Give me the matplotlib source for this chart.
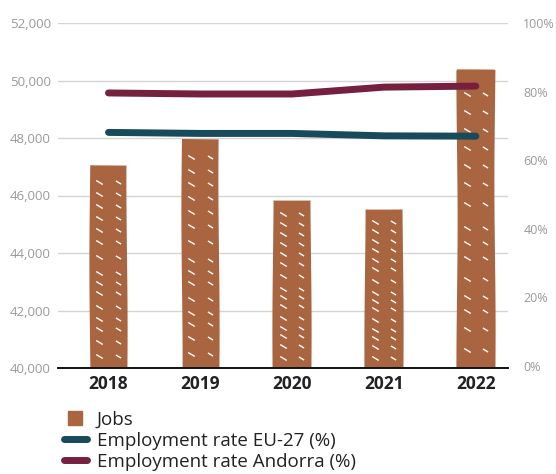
import numpy as np
import matplotlib.pyplot as plt
from matplotlib.path import Path
from matplotlib.lines import Line2D

plt.rcParams['font.family'] = ['Open Sans', 'DejaVu Sans']

# datos
years = ['2018', '2019', '2020', '2021', '2022']
jobs = [47050, 47980, 45840, 45530, 50350]
rate_eu = [68.1, 67.8, 67.8, 67.1, 67.0]
rate_andorra = [79.6, 79.3, 79.3, 81.3, 81.6]

bar_color = '#A8653F'
eu_color = '#174A5B'
and_color = '#76203F'
grid_color = '#D4D4D4'
label_color = '#9A9A9A'

fig = plt.figure(figsize=(5.56, 4.74), dpi=100)
ax = fig.add_axes([58 / 556, 106 / 474, 450 / 556, 345 / 474])
ax2 = ax.twinx()

x = np.arange(len(years))

# barras (borde apenas irregular)
bars = ax.bar(x, np.array(jobs) - 40000, bottom=40000, width=0.41,
              color=bar_color, zorder=2)
for b in bars:
    b.set_sketch_params(scale=0.6, length=300, randomness=1)

# pequenas marcas blancas dentro de las barras
tick_path = Path([(-1, 0.6), (1, -0.6)])
rows = [0.06, 0.13, 0.19, 0.24, 0.30, 0.37, 0.42, 0.47, 0.55, 0.62, 0.68, 0.74, 0.80, 0.86, 0.92]
for i, v in enumerate(jobs):
    h = v - 40000
    ys = [40000 + r * h for r in rows]
    ax.scatter([x[i] - 0.1] * len(ys), ys, marker=tick_path, s=22,
               color='white', linewidths=1.0, zorder=3)
    ax.scatter([x[i] + 0.1] * len(ys), ys[::-1], marker=tick_path, s=14,
               color='white', linewidths=1.0, zorder=3)

ax.set_ylim(40000, 52000)
ax.set_yticks(np.arange(40000, 52001, 2000))
ax.set_yticklabels([f'{v:,}' for v in range(40000, 52001, 2000)])
ax.set_xlim(-0.55, 4.35)
ax.set_xticks(x)
ax.set_xticklabels(years, fontsize=12.5, fontweight='bold', color='#222222')
ax.grid(axis='y', color=grid_color, linewidth=1.0, zorder=0)
ax.set_axisbelow(True)
ax.tick_params(axis='y', length=0, labelsize=9.5, labelcolor=label_color, pad=5)
ax.tick_params(axis='x', length=0, pad=5)

ax2.plot(x, rate_eu, color=eu_color, linewidth=5, solid_capstyle='round', zorder=4)
ax2.plot(x, rate_andorra, color=and_color, linewidth=5, solid_capstyle='round', zorder=4)
# la escala derecha esta un poco desplazada respecto a la rejilla
ax2.set_ylim(-0.6, 98.6)
ax2.set_yticks(range(0, 101, 20))
ax2.set_yticklabels([f'{v}%' for v in range(0, 101, 20)])
ax2.tick_params(axis='y', length=0, labelsize=9, labelcolor=label_color, pad=11)

for a in (ax, ax2):
    for s in ['top', 'left', 'right']:
        a.spines[s].set_visible(False)
    a.spines['bottom'].set_color('#111111')
    a.spines['bottom'].set_linewidth(1.2)

handles = [
    Line2D([0], [0], marker='s', markersize=10, linestyle='none',
           color=bar_color),
    Line2D([0], [0], color=eu_color, linewidth=5, solid_capstyle='round'),
    Line2D([0], [0], color=and_color, linewidth=5, solid_capstyle='round'),
]
labels = ['Jobs', 'Employment rate EU-27 (%)', 'Employment rate Andorra (%)']
leg = fig.legend(handles, labels, loc='upper left', bbox_to_anchor=(64 / 556, 1 - 411 / 474),
                 frameon=False, fontsize=13.5, handlelength=1.2, handleheight=0.9,
                 handletextpad=0.55, labelspacing=0.15, borderaxespad=0, borderpad=0)
for t in leg.get_texts():
    t.set_color('#222222')

fig.savefig('out.png', dpi=100)
